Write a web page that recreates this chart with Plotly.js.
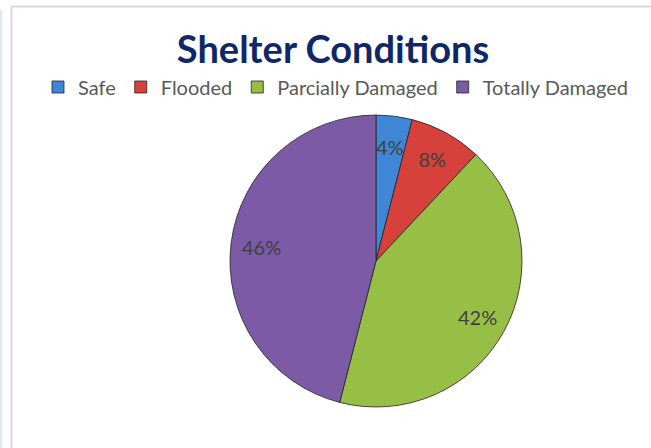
<!DOCTYPE html>
<html>
<head>
<meta charset="utf-8">
<script src="https://cdn.plot.ly/plotly-3.0.1.min.js"></script>
<style>
  html, body { margin: 0; padding: 0; background: #ffffff; }
  #chart { width: 651px; height: 448px; }
</style>
</head>
<body>
<div id="chart"></div>
<script>
const categories = ["Safe", "Flooded", "Parcially Damaged", "Totally Damaged"];
const shares = [4, 8, 42, 46];
const sliceColors = ["#3f86d6", "#d6423b", "#98bf45", "#7d5aa6"];
const chartTitle = "Shelter Conditions";

const W = 651, H = 448;
const px = v => v / W;
const py = v => 1 - v / H;

// pie placement (pixels)
const cx = 376, cy = 261, R = 146;
const labelFrac = 0.79;
// slices drawn by Plotly's own label placement (others get an annotation at the bisector)
const plotlyLabelled = [false, true, false, false];

const total = shares.reduce((a, b) => a + b, 0);
const labelAnnotations = [];
let acc = 0;
shares.forEach((v, i) => {
  const mid = (acc + v / 2) / total * 2 * Math.PI;
  acc += v;
  if (plotlyLabelled[i]) return;
  const x = cx + labelFrac * R * Math.sin(mid);
  const y = cy - labelFrac * R * Math.cos(mid);
  labelAnnotations.push({
    xref: "paper", yref: "paper", x: px(x), y: py(y),
    xanchor: "center", yanchor: "middle", showarrow: false,
    text: Math.round(v / total * 100) + "%",
    font: { family: "Lato, sans-serif", size: 20, color: "#404040" }
  });
});

const trace = {
  type: "pie",
  labels: categories,
  values: shares,
  sort: false,
  direction: "clockwise",
  rotation: 0,
  marker: { colors: sliceColors, line: { color: "rgba(35,35,35,0.8)", width: 1 } },
  texttemplate: "%{percent:.0%}",
  textposition: plotlyLabelled.map(b => b ? "inside" : "none"),
  insidetextorientation: "horizontal",
  textfont: { family: "Lato, sans-serif", size: 20, color: "#404040" },
  hoverinfo: "label+percent",
  domain: { x: [px(cx - R), px(cx + R)], y: [py(cy + R), py(cy - R)] }
};

const layout = {
  width: W, height: H,
  margin: { l: 0, r: 0, t: 0, b: 0 },
  paper_bgcolor: "#ffffff",
  showlegend: true,
  uniformtext: { mode: "show", minsize: 20 },
  title: {
    text: "<b>" + chartTitle + "</b>",
    font: { family: "Lato, sans-serif", size: 38, color: "#0f2766" },
    x: px(333), xanchor: "center",
    y: py(50), yanchor: "middle"
  },
  legend: {
    orientation: "h",
    x: px(336), xanchor: "center",
    y: py(87), yanchor: "middle",
    font: { family: "Lato, sans-serif", size: 20, color: "#595959" },
    itemwidth: 30,
    bgcolor: "rgba(0,0,0,0)"
  },
  annotations: labelAnnotations,
  shapes: [
    { type: "line", xref: "paper", yref: "paper", x0: px(11.5), x1: px(11.5), y0: py(6), y1: 0,
      line: { color: "#d9d9d9", width: 2 } },
    { type: "line", xref: "paper", yref: "paper", x0: px(11), x1: 1, y0: py(6.5), y1: py(6.5),
      line: { color: "#d9d9d9", width: 2 } },
    { type: "line", xref: "paper", yref: "paper", x0: px(1), x1: px(1), y0: py(10), y1: 0,
      line: { color: "#dde9f7", width: 2 } }
  ]
};

Plotly.newPlot("chart", [trace], layout, { displayModeBar: false, staticPlot: true });
</script>
</body>
</html>
